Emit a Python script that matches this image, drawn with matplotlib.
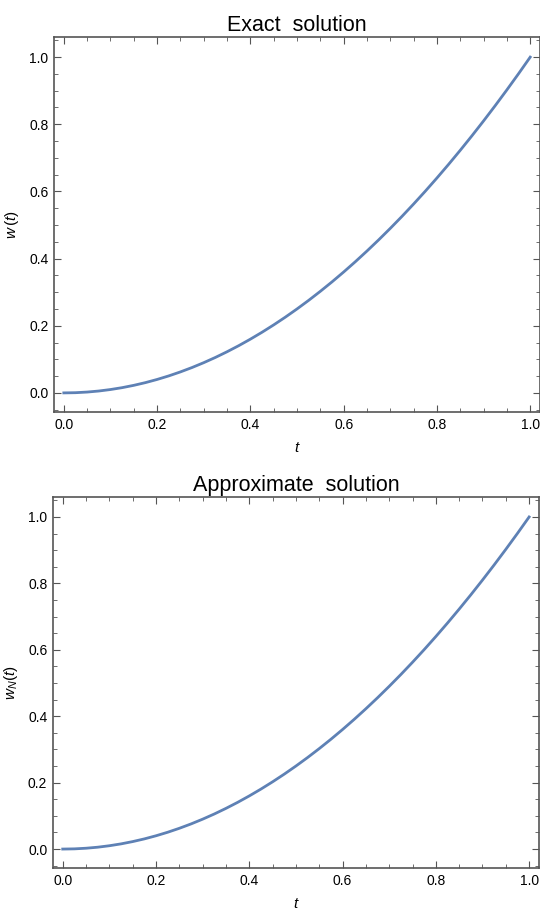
import numpy as np
import matplotlib
matplotlib.use("Agg")
import matplotlib.pyplot as plt
from matplotlib.ticker import MultipleLocator

# значения (шаг 0.025)
t_vals = [0.0, 0.025, 0.05, 0.075, 0.1, 0.125, 0.15, 0.175, 0.2, 0.225,
          0.25, 0.275, 0.3, 0.325, 0.35, 0.375, 0.4, 0.425, 0.45, 0.475,
          0.5, 0.525, 0.55, 0.575, 0.6, 0.625, 0.65, 0.675, 0.7, 0.725,
          0.75, 0.775, 0.8, 0.825, 0.85, 0.875, 0.9, 0.925, 0.95, 0.975, 1.0]
w_exact = [0.0, 0.0006, 0.0025, 0.0056, 0.010, 0.0156, 0.0225, 0.0306, 0.040, 0.0506,
           0.0625, 0.0756, 0.090, 0.1056, 0.1225, 0.1406, 0.160, 0.1806, 0.2025, 0.2256,
           0.250, 0.2756, 0.3025, 0.3306, 0.360, 0.3906, 0.4225, 0.4556, 0.490, 0.5256,
           0.5625, 0.6006, 0.640, 0.6806, 0.7225, 0.7656, 0.810, 0.8556, 0.9025, 0.9506, 1.0]
w_approx = [0.0, 0.0006, 0.0025, 0.0056, 0.010, 0.0156, 0.0225, 0.0306, 0.040, 0.0506,
            0.0625, 0.0756, 0.090, 0.1056, 0.1225, 0.1406, 0.160, 0.1806, 0.2025, 0.2256,
            0.250, 0.2756, 0.3025, 0.3306, 0.360, 0.3906, 0.4225, 0.4556, 0.490, 0.5256,
            0.5625, 0.6006, 0.640, 0.6806, 0.7225, 0.7656, 0.810, 0.8556, 0.9025, 0.9506, 1.0]
titles = ['Exact  solution', 'Approximate  solution']
ylabels = [r'$w\,(t)$', r'$w_N(t)$']
x_ticks = [0.0, 0.2, 0.4, 0.6, 0.8, 1.0]
y_ticks = [0.0, 0.2, 0.4, 0.6, 0.8, 1.0]

plt.rcParams['font.family'] = ['Liberation Sans', 'DejaVu Sans']
plt.rcParams['mathtext.fontset'] = 'custom'
plt.rcParams['mathtext.it'] = 'Liberation Sans:italic'
plt.rcParams['mathtext.rm'] = 'Liberation Sans'

line_color = '#5E81B5'
frame_color = '#555555'

fig = plt.figure(figsize=(5.4, 9.13), dpi=100)
boxes = [[0.100, 0.5487, 0.900, 0.4108],
         [0.098, 0.0493, 0.900, 0.4063]]
series = [w_exact, w_approx]

for box, w, title, ylab in zip(boxes, series, titles, ylabels):
    ax = fig.add_axes(box)
    ax.plot(t_vals, w, color=line_color, lw=2)
    ax.set_xlim(-0.021, 1.021)
    ax.set_ylim(-0.057, 1.06)
    ax.set_xticks(x_ticks)
    ax.set_yticks(y_ticks)
    ax.set_xticklabels([f'{v:.1f}' for v in x_ticks])
    ax.set_yticklabels([f'{v:.1f}' for v in y_ticks])
    ax.xaxis.set_minor_locator(MultipleLocator(0.05))
    ax.yaxis.set_minor_locator(MultipleLocator(0.05))
    ax.tick_params(which='both', direction='in', top=True, right=True,
                   color=frame_color, labelsize=10, pad=4)
    ax.tick_params(which='major', length=5, width=0.8)
    ax.tick_params(which='minor', length=3, width=0.6)
    for s in ax.spines.values():
        s.set_color(frame_color)
        s.set_linewidth(1.2)
    ax.set_title(title, fontsize=15.5, pad=4)
    ax.set_xlabel(r'$t$', fontsize=11, labelpad=7)
    ax.set_ylabel(ylab, fontsize=11, labelpad=6)

fig.savefig('out.png', dpi=100)
